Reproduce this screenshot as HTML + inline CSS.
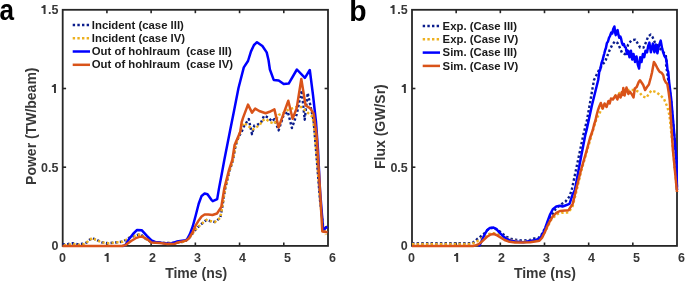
<!DOCTYPE html>
<html><head><meta charset="utf-8"><style>
html,body{margin:0;padding:0;background:#fff;}
body{width:685px;height:281px;overflow:hidden;position:relative;font-family:"Liberation Sans",sans-serif;}
svg{position:absolute;left:0;top:0;will-change:transform;}
.ax line{stroke:#262626;stroke-width:1.6;}
.box{fill:none;stroke:#262626;stroke-width:1.8;}
.t{font-family:"Liberation Sans",sans-serif;font-weight:bold;fill:#383838;}
.tk{font-size:12.5px;}
.lb{font-size:14px;}
.lg{font-size:11.35px;fill:#1a1a1a;}
.one{fill:#383838;}
.pl{font-size:30px;fill:#000;}
polyline{fill:none;stroke-linejoin:round;}
.sb{stroke:#0000ff;stroke-width:2.5;}
.so{stroke:#d95319;stroke-width:2.5;}
.db{stroke:#0a1c8c;stroke-width:2.4;stroke-dasharray:2.4 2.25;}
.dy{stroke:#edb120;stroke-width:2.4;stroke-dasharray:2.4 2.25;}
</style></head><body>
<svg width="685" height="281" viewBox="0 0 685 281">

<clipPath id="ca"><rect x="60.7" y="7.800000000000001" width="269.3" height="240.1"/></clipPath>
<clipPath id="cb"><rect x="410.0" y="7.800000000000001" width="269.0" height="240.1"/></clipPath>
<g class="ax">
<line x1="106.92" y1="245.9" x2="106.92" y2="242.5"/>
<line x1="106.92" y1="9.8" x2="106.92" y2="13.200000000000001"/>
<line x1="151.13" y1="245.9" x2="151.13" y2="242.5"/>
<line x1="151.13" y1="9.8" x2="151.13" y2="13.200000000000001"/>
<line x1="195.35" y1="245.9" x2="195.35" y2="242.5"/>
<line x1="195.35" y1="9.8" x2="195.35" y2="13.200000000000001"/>
<line x1="239.57" y1="245.9" x2="239.57" y2="242.5"/>
<line x1="239.57" y1="9.8" x2="239.57" y2="13.200000000000001"/>
<line x1="283.78" y1="245.9" x2="283.78" y2="242.5"/>
<line x1="283.78" y1="9.8" x2="283.78" y2="13.200000000000001"/>
<line x1="62.7" y1="167.20" x2="66.10000000000001" y2="167.20"/>
<line x1="328.0" y1="167.20" x2="324.6" y2="167.20"/>
<line x1="62.7" y1="88.50" x2="66.10000000000001" y2="88.50"/>
<line x1="328.0" y1="88.50" x2="324.6" y2="88.50"/>
</g>
<rect class="box" x="62.7" y="9.8" width="265.3" height="236.1"/>
<g clip-path="url(#ca)">
<polyline class="db" points="62.5,244.5 68.0,244.0 72.7,243.3 77.3,244.2 82.3,243.8 85.5,243.0 87.0,242.2 89.0,240.1 92.6,238.0 95.5,239.7 97.2,240.1 99.7,241.5 101.5,242.4 104.1,242.6 108.2,243.2 113.9,242.6 118.0,242.2 122.1,241.8 126.2,239.8 129.9,237.3 135.2,235.7 139.2,234.5 142.0,235.5 146.1,239.1 150.0,241.5 155.0,242.5 165.0,243.0 175.0,243.0 185.0,241.5 190.0,237.0 195.5,229.7 200.2,225.0 206.4,219.9 210.0,221.0 214.9,222.0 220.3,217.8 222.2,207.5 225.1,189.0 229.5,171.0 233.0,160.0 235.5,146.0 238.5,137.0 241.6,131.8 244.0,126.2 248.8,119.0 250.4,127.0 252.0,134.2 254.4,125.4 257.6,124.6 260.8,123.0 264.0,115.8 268.0,117.4 272.0,121.4 274.4,119.0 278.6,130.4 283.3,116.0 287.8,111.7 291.9,128.0 296.7,114.4 301.7,90.3 304.7,119.7 307.7,93.0 310.9,108.0 313.6,120.6 316.0,150.0 320.0,200.0 323.0,225.0 326.5,229.0"/>
<polyline class="dy" stroke-dashoffset="-1.4" points="62.5,245.2 68.0,244.7 72.7,244.0 77.3,244.9 82.3,244.5 85.5,243.7 87.0,242.2 89.0,240.1 92.6,238.0 95.5,239.7 97.2,240.1 99.7,241.5 101.5,242.4 104.1,242.6 108.2,243.2 113.9,242.6 118.0,242.2 122.1,241.8 126.2,239.8 129.9,237.3 135.2,235.7 139.2,234.5 142.0,235.5 146.1,239.1 150.0,241.5 155.0,242.5 165.0,243.0 175.0,243.0 185.0,241.5 190.0,237.0 195.5,229.7 200.2,225.0 206.4,219.9 210.0,221.0 214.9,222.0 220.3,217.8 222.2,207.5 225.1,189.0 229.5,171.0 233.0,160.0 235.5,146.0 238.5,137.0 240.0,132.0 243.2,123.0 246.4,124.6 249.6,127.0 252.8,129.4 256.8,127.0 260.0,124.6 262.4,120.6 265.6,119.0 270.4,122.2 274.4,123.8 278.4,115.0 283.0,113.0 287.8,110.0 296.7,107.0 301.1,107.0 305.6,110.8 312.7,117.0 314.5,131.0 317.0,160.0 320.0,200.0 323.0,225.0 325.8,235.0"/>
<polyline class="sb" points="122.5,246.0 124.0,245.8 125.6,244.7 129.3,238.7 133.0,234.0 137.1,229.9 141.9,230.3 146.9,235.9 151.5,240.5 155.2,241.9 160.0,242.4 162.8,243.1 167.4,243.6 172.0,243.3 176.7,241.6 184.0,240.6 186.9,239.6 189.9,234.1 192.8,226.3 195.7,215.5 198.7,203.7 201.6,195.9 204.6,193.5 207.5,194.3 211.4,199.8 212.8,201.2 217.2,199.1 219.0,188.4 221.7,174.2 224.3,160.0 230.2,130.0 234.0,111.0 238.5,88.0 243.8,67.4 248.0,61.0 251.0,51.4 254.0,45.0 257.0,42.2 262.4,46.0 266.7,52.4 268.5,60.0 269.9,69.5 273.7,79.9 278.7,80.4 283.7,84.0 288.7,83.6 296.9,69.5 304.9,77.9 309.8,70.0 313.0,95.0 316.0,122.0 318.0,150.0 320.0,190.0 322.0,215.0 323.0,229.5 324.5,229.0 327.2,226.5"/>
<polyline class="so" points="62.5,246.0 122.0,246.0 125.6,245.1 131.1,241.0 135.7,238.2 139.4,236.8 142.7,236.8 146.9,239.1 151.5,242.4 160.0,243.1 167.4,244.0 174.8,243.8 176.7,242.8 186.1,240.6 188.9,238.4 192.8,232.2 195.7,225.3 198.7,220.4 201.6,216.5 204.6,214.5 208.5,214.5 212.4,215.0 217.0,213.5 221.3,207.0 224.3,188.4 228.8,170.7 232.3,160.0 234.6,145.0 240.2,132.0 241.7,122.0 243.2,117.4 248.0,104.6 252.0,112.6 255.2,108.6 259.2,111.0 265.6,113.2 269.6,111.8 274.4,109.4 278.6,127.4 288.3,100.7 292.6,118.8 296.7,108.1 301.3,79.0 305.6,105.5 310.0,108.1 313.6,113.5 316.6,135.0 320.0,190.0 322.3,231.5 327.5,232.3"/>
</g>
<text class="t tk" x="62.60" y="262" text-anchor="middle">0</text>
<text class="t tk" x="152.60" y="262" text-anchor="middle">2</text>
<text class="t tk" x="197.60" y="262" text-anchor="middle">3</text>
<text class="t tk" x="242.60" y="262" text-anchor="middle">4</text>
<text class="t tk" x="287.60" y="262" text-anchor="middle">5</text>
<text class="t tk" x="332.60" y="262" text-anchor="middle">6</text>
<text class="t tk" x="58.50" y="250.40" text-anchor="end">0</text>
<text class="t tk" x="58.50" y="171.70" text-anchor="end">0.5</text>
<text class="t tk" x="58.50" y="93.00" text-anchor="end"></text>
<text class="t tk" x="58.50" y="14.30" text-anchor="end">.5</text>
<text class="t lb" x="196.15" y="278.4" text-anchor="middle">Time (ns)</text>
<g class="ax">
<line x1="456.17" y1="245.9" x2="456.17" y2="242.5"/>
<line x1="456.17" y1="9.8" x2="456.17" y2="13.200000000000001"/>
<line x1="500.33" y1="245.9" x2="500.33" y2="242.5"/>
<line x1="500.33" y1="9.8" x2="500.33" y2="13.200000000000001"/>
<line x1="544.50" y1="245.9" x2="544.50" y2="242.5"/>
<line x1="544.50" y1="9.8" x2="544.50" y2="13.200000000000001"/>
<line x1="588.67" y1="245.9" x2="588.67" y2="242.5"/>
<line x1="588.67" y1="9.8" x2="588.67" y2="13.200000000000001"/>
<line x1="632.83" y1="245.9" x2="632.83" y2="242.5"/>
<line x1="632.83" y1="9.8" x2="632.83" y2="13.200000000000001"/>
<line x1="412.0" y1="167.20" x2="415.4" y2="167.20"/>
<line x1="677.0" y1="167.20" x2="673.6" y2="167.20"/>
<line x1="412.0" y1="88.50" x2="415.4" y2="88.50"/>
<line x1="677.0" y1="88.50" x2="673.6" y2="88.50"/>
</g>
<rect class="box" x="412.0" y="9.8" width="265.0" height="236.1"/>
<g clip-path="url(#cb)">
<polyline class="db" points="412.0,243.2 472.0,243.2 474.5,241.5 476.9,239.3 480.6,236.5 484.3,233.3 487.5,230.0 491.0,228.0 494.5,228.3 499.5,231.3 502.8,234.0 506.5,236.8 510.6,238.7 513.9,239.6 520.2,240.3 524.4,240.4 529.2,240.2 534.0,238.5 538.3,238.1 542.0,234.0 546.0,226.0 550.3,217.8 555.6,209.2 560.0,205.0 565.3,201.8 569.5,196.4 571.7,190.0 577.0,165.0 583.3,135.0 587.0,120.0 590.5,100.0 594.0,80.0 599.0,70.0 603.0,64.0 605.1,61.8 607.8,54.7 609.6,50.2 612.2,44.9 614.9,41.4 617.6,43.1 620.2,48.5 622.0,52.9 624.9,54.2 628.2,44.4 631.4,40.4 635.4,39.6 637.8,43.6 640.2,47.6 643.4,47.6 645.8,42.8 648.2,36.4 650.6,34.6 652.5,37.0 654.6,41.9 658.0,46.0 662.0,51.0 665.6,54.3 666.6,61.1 665.9,63.5 667.0,71.0 671.0,100.0 676.4,160.0 677.0,190.0"/>
<polyline class="dy" points="412.0,243.9 472.0,243.9 474.5,242.5 476.9,241.4 480.6,239.1 484.5,236.5 488.9,234.0 493.5,233.1 498.8,234.5 503.0,236.5 506.8,238.5 511.0,240.0 520.2,241.8 529.2,241.0 538.3,239.8 542.0,237.0 546.0,230.0 551.0,220.0 553.6,217.2 558.1,213.7 561.6,212.8 568.5,212.5 572.7,206.0 576.0,193.0 581.0,172.0 586.4,153.0 592.8,131.0 596.4,119.0 601.8,109.0 606.0,104.0 611.4,100.0 616.7,94.2 622.0,92.0 627.4,90.0 633.5,90.0 637.0,91.0 640.0,93.0 642.5,96.3 646.4,97.6 648.9,93.7 651.5,90.5 656.0,92.0 660.0,95.0 664.0,99.0 667.4,107.0 669.5,115.6 672.0,140.0 675.0,170.0 677.0,192.0"/>
<polyline class="sb" points="478.3,245.7 479.6,245.3 480.6,243.3 484.3,235.0 487.0,230.3 489.8,228.0 493.5,227.6 496.3,228.9 499.1,232.2 502.8,235.9 506.5,238.7 510.2,240.5 515.0,241.4 523.4,242.3 530.0,241.0 536.0,240.0 539.5,238.5 542.1,235.0 544.8,229.6 547.4,221.6 550.1,214.5 552.8,209.2 556.3,206.5 559.9,205.7 562.5,206.5 565.3,205.5 569.5,203.9 572.7,194.3 574.9,190.0 579.5,165.0 585.3,135.0 586.6,130.0 592.0,105.0 598.2,80.0 599.2,72.0 600.1,70.0 601.6,62.7 602.5,60.5 603.7,55.6 604.3,53.5 605.1,50.2 606.0,47.8 606.9,43.1 608.0,41.5 609.0,37.8 610.0,36.0 611.3,32.5 612.3,33.5 613.2,29.0 614.4,26.5 615.2,33.0 615.8,35.1 616.7,31.0 617.6,30.2 618.5,35.0 619.4,37.8 620.3,36.5 621.1,38.7 622.0,43.0 622.9,44.9 623.8,44.0 624.7,46.7 625.8,47.6 626.9,54.0 628.2,50.8 629.5,57.2 630.9,50.8 632.2,59.6 633.5,54.0 635.1,62.0 636.5,56.4 637.8,64.5 639.1,68.5 640.2,57.2 641.5,62.0 642.9,54.0 644.2,57.2 645.5,50.8 647.0,52.4 648.2,46.0 649.4,42.6 650.9,52.3 652.9,43.6 654.4,52.3 655.8,44.5 657.4,53.3 658.7,46.5 660.7,40.6 662.1,48.4 663.2,52.3 664.6,56.3 666.0,58.2 666.9,64.0 667.5,69.9 668.3,72.0 669.0,81.0 670.0,89.2 671.2,98.8 673.5,125.0 676.4,160.0 677.0,190.0"/>
<polyline class="so" points="412.0,246.0 473.0,246.0 475.0,245.6 478.7,244.2 482.4,241.0 487.0,236.8 490.7,234.5 494.0,234.0 497.2,235.4 500.9,237.7 504.6,240.0 508.3,241.4 515.0,242.4 520.0,242.6 530.0,242.3 535.0,241.5 539.4,240.8 542.1,237.6 544.8,232.3 547.4,226.1 550.1,220.8 552.8,216.3 556.3,212.8 559.9,211.0 565.0,210.6 568.5,210.3 572.7,203.9 576.0,190.0 581.0,170.0 586.4,151.4 590.0,138.0 592.8,130.0 594.0,125.0 595.6,120.0 596.4,116.0 598.0,110.0 599.5,106.0 600.8,103.0 602.7,108.5 604.6,103.5 606.5,107.0 608.5,101.0 609.7,103.5 611.0,98.5 612.9,99.5 615.5,95.5 617.4,99.5 618.7,94.5 620.6,97.5 621.9,92.0 622.6,95.0 623.3,88.0 624.6,95.5 626.5,87.5 628.4,94.0 629.7,91.5 631.6,94.0 633.5,97.5 634.8,88.5 636.7,87.0 638.7,82.0 640.0,80.3 641.9,83.0 643.2,85.0 645.1,90.0 647.0,87.0 648.9,84.5 650.8,77.5 652.0,72.5 653.9,62.0 655.8,65.0 657.8,69.0 659.7,71.9 661.7,72.9 663.2,75.0 664.1,79.1 665.7,82.3 667.3,83.9 668.6,91.9 669.7,100.0 672.9,150.0 677.0,192.0"/>
</g>
<text class="t tk" x="411.60" y="262" text-anchor="middle">0</text>
<text class="t tk" x="501.60" y="262" text-anchor="middle">2</text>
<text class="t tk" x="546.60" y="262" text-anchor="middle">3</text>
<text class="t tk" x="591.60" y="262" text-anchor="middle">4</text>
<text class="t tk" x="636.60" y="262" text-anchor="middle">5</text>
<text class="t tk" x="681.60" y="262" text-anchor="middle">6</text>
<text class="t tk" x="407.80" y="250.40" text-anchor="end">0</text>
<text class="t tk" x="407.80" y="171.70" text-anchor="end">0.5</text>
<text class="t tk" x="407.80" y="93.00" text-anchor="end"></text>
<text class="t tk" x="407.80" y="14.30" text-anchor="end">.5</text>
<text class="t lb" x="544.90" y="278.4" text-anchor="middle">Time (ns)</text>
<path class="one" d="M54.00,84.10 L55.95,84.10 L55.95,92.90 L54.00,92.90 L54.00,87.10 L51.80,87.10 L51.80,85.80 C52.80,85.70 53.70,85.10 54.00,84.10 Z"/>
<path class="one" d="M403.90,84.10 L405.85,84.10 L405.85,92.90 L403.90,92.90 L403.90,87.10 L401.70,87.10 L401.70,85.80 C402.70,85.70 403.60,85.10 403.90,84.10 Z"/>
<path class="one" d="M43.60,5.10 L45.55,5.10 L45.55,13.90 L43.60,13.90 L43.60,8.10 L41.40,8.10 L41.40,6.80 C42.40,6.70 43.30,6.10 43.60,5.10 Z"/>
<path class="one" d="M392.60,5.10 L394.55,5.10 L394.55,13.90 L392.60,13.90 L392.60,8.10 L390.40,8.10 L390.40,6.80 C391.40,6.70 392.30,6.10 392.60,5.10 Z"/>
<path class="one" d="M106.70,253.10 L108.65,253.10 L108.65,261.90 L106.70,261.90 L106.70,256.10 L104.50,256.10 L104.50,254.80 C105.50,254.70 106.40,254.10 106.70,253.10 Z"/>
<path class="one" d="M456.20,253.10 L458.15,253.10 L458.15,261.90 L456.20,261.90 L456.20,256.10 L454.00,256.10 L454.00,254.80 C455.00,254.70 455.90,254.10 456.20,253.10 Z"/>
<text class="t lb" transform="translate(35.6,126.2) rotate(-90)" text-anchor="middle">Power (TW/beam)</text>
<text class="t lb" transform="translate(384.6,126.6) rotate(-90)" text-anchor="middle">Flux (GW/Sr)</text>
<text class="t pl" transform="translate(-0.6,20) scale(0.87,1)">a</text>
<text class="t pl" style="font-size:29.5px" transform="translate(349.2,21) scale(0.96,1)">b</text>
<line class="db" x1="72.7" y1="25" x2="90" y2="25" style="fill:none"/>
<text class="t lg" x="91.8" y="28.6" xml:space="preserve">Incident (case III)</text>
<line class="dy" x1="72.7" y1="38.2" x2="90" y2="38.2" style="fill:none"/>
<text class="t lg" x="91.8" y="41.800000000000004" xml:space="preserve">Incident (case IV)</text>
<line class="sb" x1="72.7" y1="51.5" x2="90" y2="51.5" style="fill:none"/>
<text class="t lg" x="91.8" y="55.1" xml:space="preserve">Out of hohlraum  (case III)</text>
<line class="so" x1="72.7" y1="64.8" x2="90" y2="64.8" style="fill:none"/>
<text class="t lg" x="91.8" y="68.39999999999999" xml:space="preserve">Out of hohlraum  (case IV)</text>
<line class="db" x1="422.7" y1="26" x2="440" y2="26" style="fill:none"/>
<text class="t lg" x="442.6" y="29.6" xml:space="preserve">Exp. (Case III)</text>
<line class="dy" x1="422.7" y1="39.3" x2="440" y2="39.3" style="fill:none"/>
<text class="t lg" x="442.6" y="42.9" xml:space="preserve">Exp. (Case IV)</text>
<line class="sb" x1="422.7" y1="52.6" x2="440" y2="52.6" style="fill:none"/>
<text class="t lg" x="442.6" y="56.2" xml:space="preserve">Sim. (Case III)</text>
<line class="so" x1="422.7" y1="65.9" x2="440" y2="65.9" style="fill:none"/>
<text class="t lg" x="442.6" y="69.5" xml:space="preserve">Sim. (Case IV)</text>
</svg></body></html>
